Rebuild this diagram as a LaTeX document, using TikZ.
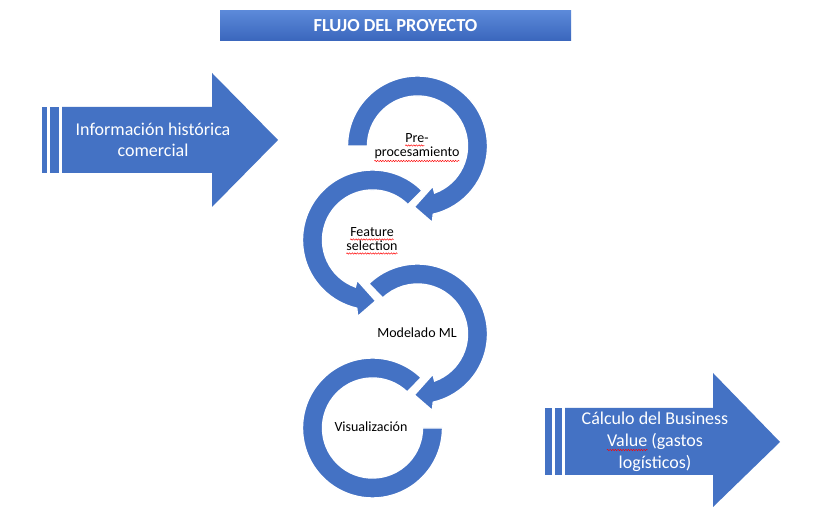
\documentclass[tikz,border=0pt]{standalone}
\usepackage{fontspec}
\setmainfont{Carlito}
\usetikzlibrary{decorations.pathmorphing}
\definecolor{ofblue}{HTML}{4472C4}
\definecolor{titletop}{HTML}{5B89D9}
\definecolor{titlebot}{HTML}{3A66BC}
\newcommand{\cwarrow}[4]{% name, cx, cy, start angle (clockwise arrow)
  \path[circarrow] ([shift={(#2,#3)}]#4:50pt) -- ([shift={(#2,#3)}]#4:70pt)
    arc[start angle=#4, end angle=-77, radius=70pt]
    -- ([shift={(#2,#3)}]-79:78pt) -- ([shift={(#2,#3)}]-93:61pt)
    -- ([shift={(#2,#3)}]-69:43pt) -- ([shift={(#2,#3)}]-70:50pt)
    arc[start angle=-70, end angle=#4, radius=50pt] -- cycle;
  \coordinate (#1) at (#2,#3);}
\newcommand{\ccwarrow}[4]{% name, cx, cy, start angle (counter-clockwise arrow)
  \path[circarrow] ([shift={(#2,#3)}]#4:50pt) -- ([shift={(#2,#3)}]#4:70pt)
    arc[start angle=#4, end angle=257, radius=70pt]
    -- ([shift={(#2,#3)}]259:78pt) -- ([shift={(#2,#3)}]273:61pt)
    -- ([shift={(#2,#3)}]249:43pt) -- ([shift={(#2,#3)}]250:50pt)
    arc[start angle=250, end angle=#4, radius=50pt] -- cycle;
  \coordinate (#1) at (#2,#3);}
\begin{document}
\begin{tikzpicture}[x=1pt,y=1pt,
  circarrow/.style={fill=ofblue, draw=white, line width=1.4pt},
  bigarrow/.style={fill=ofblue},
  bigtext/.style={text=white, font=\fontsize{18}{22}\selectfont, inner sep=0pt, anchor=base},
  lbl/.style={text=black, font=\fontsize{14}{16}\selectfont, inner sep=0pt, anchor=base},
  spell/.style={draw=red, line width=0.45pt, decorate, decoration={snake, amplitude=0.7pt, segment length=2.6pt}},
  titlebar/.style={top color=titletop, bottom color=titlebot, minimum width=351pt, minimum height=30pt,
    inner sep=0pt, text=white, font=\fontsize{18.4}{21}\selectfont\bfseries}]
\useasboundingbox (0,0) rectangle (827,521);
\fill[white] (0,0) rectangle (827,521);

% title
\node[titlebar] (title) at (395.5,495) {FLUJO DEL PROYECTO};

% left big arrow
\fill[bigarrow] (42,348) rectangle (47,414);
\fill[bigarrow] (50,348) rectangle (59,414);
\fill[bigarrow] (62,348) -- (212,348) -- (212,314) -- (278,381) -- (212,448) -- (212,414) -- (62,414) -- cycle;
\node[bigtext] (info1) at (153,385) {Información histórica};
\node[bigtext] (info2) at (153,364) {comercial};

% right big arrow
\fill[bigarrow] (545,46) rectangle (552,113);
\fill[bigarrow] (555,46) rectangle (562,113);
\fill[bigarrow] (565,46) -- (713,46) -- (713,14) -- (780,79) -- (713,148) -- (713,113) -- (565,113) -- cycle;
\node[bigtext] (calc1) at (655,96) {Cálculo del Business};
\node[bigtext] (calc2) at (655,74) {Value (gastos};
\node[bigtext] (calc3) at (655,52) {logísticos)};
\node[bigtext, anchor=base west] (valw) at (calc2.base west) {\phantom{Value}};
\draw[spell] ([yshift=-3pt]valw.base west) -- ([yshift=-3pt]valw.base east);

% circular arrows (drawn bottom-up so arrowheads lie on top)
\path[circarrow] ([shift={(372.5,93)}]0:50pt) -- ([shift={(372.5,93)}]0:70pt)
  arc[start angle=0, end angle=-314, radius=70pt]
  -- ([shift={(372.5,93)}]46:50pt)
  arc[start angle=46, end angle=360, radius=50pt] -- cycle;
\coordinate (c4) at (372.5,93);
\cwarrow{c3}{417.5}{187}{134}
\ccwarrow{c2}{372.5}{281}{45}
\cwarrow{c1}{417.5}{375}{180}

% labels
\node[lbl] (pre1) at (417,378) {Pre-};
\node[lbl] (pre2) at (417,364) {procesamiento};
\node[lbl, anchor=base west] (prew) at (pre1.base west) {\phantom{Pre}};
\draw[spell] ([yshift=-2.5pt]prew.base west) -- ([yshift=-2.5pt]prew.base east);
\draw[spell] ([yshift=-4pt]pre2.base west) -- ([yshift=-4pt]pre2.base east);
\node[lbl] (fs1) at (372,284) {Feature};
\node[lbl] (fs2) at (372,270) {selection};
\draw[spell] ([yshift=-2.5pt]fs1.base west) -- ([yshift=-2.5pt]fs1.base east);
\draw[spell] ([yshift=-2.5pt]fs2.base west) -- ([yshift=-2.5pt]fs2.base east);
\node[lbl] (mml) at (417,183) {Modelado ML};
\node[lbl] (vis) at (371,89) {Visualización};
\end{tikzpicture}
\end{document}
